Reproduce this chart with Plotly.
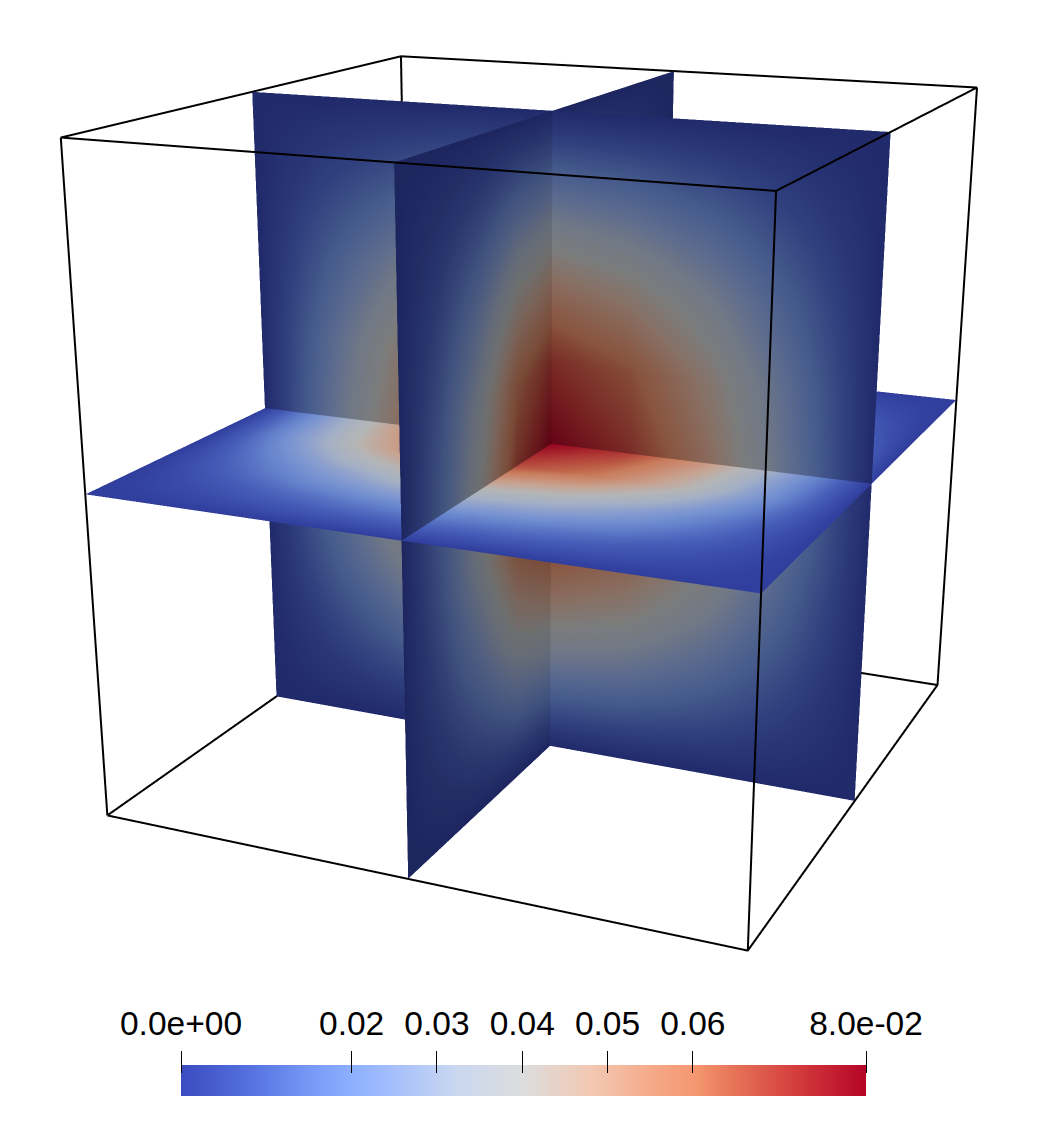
import numpy as np
import plotly.graph_objects as go

# positions of the samples along a slice (box runs 0..1)
grid_pos = [0, 0.125, 0.25, 0.375, 0.5, 0.625, 0.75, 0.875, 1]

# field values
# x slice: rows follow z, columns follow y
x_slice_values = [
    [0, 0, 0, 0, 0, 0, 0, 0, 0],
    [0, 0.0055, 0.0124, 0.0211, 0.0248, 0.0211, 0.0124, 0.0055, 0],
    [0, 0.0109, 0.0248, 0.0422, 0.0496, 0.0422, 0.0248, 0.0109, 0],
    [0, 0.0155, 0.0352, 0.0598, 0.0704, 0.0598, 0.0352, 0.0155, 0],
    [0, 0.0176, 0.0400, 0.0680, 0.0800, 0.0680, 0.0400, 0.0176, 0],
    [0, 0.0155, 0.0352, 0.0598, 0.0704, 0.0598, 0.0352, 0.0155, 0],
    [0, 0.0109, 0.0248, 0.0422, 0.0496, 0.0422, 0.0248, 0.0109, 0],
    [0, 0.0055, 0.0124, 0.0211, 0.0248, 0.0211, 0.0124, 0.0055, 0],
    [0, 0, 0, 0, 0, 0, 0, 0, 0],
]
# y slice: rows follow z, columns follow x
y_slice_values = [
    [0, 0, 0, 0, 0, 0, 0, 0, 0],
    [0, 0.0082, 0.0159, 0.0218, 0.0248, 0.0218, 0.0159, 0.0082, 0],
    [0, 0.0164, 0.0317, 0.0436, 0.0496, 0.0436, 0.0317, 0.0164, 0],
    [0, 0.0232, 0.0451, 0.0620, 0.0704, 0.0620, 0.0451, 0.0232, 0],
    [0, 0.0264, 0.0512, 0.0704, 0.0800, 0.0704, 0.0512, 0.0264, 0],
    [0, 0.0232, 0.0451, 0.0620, 0.0704, 0.0620, 0.0451, 0.0232, 0],
    [0, 0.0164, 0.0317, 0.0436, 0.0496, 0.0436, 0.0317, 0.0164, 0],
    [0, 0.0082, 0.0159, 0.0218, 0.0248, 0.0218, 0.0159, 0.0082, 0],
    [0, 0, 0, 0, 0, 0, 0, 0, 0],
]
# z slice: rows follow y, columns follow x
z_slice_values = [
    [0, 0, 0, 0, 0, 0, 0, 0, 0],
    [0, 0.0058, 0.0113, 0.0155, 0.0176, 0.0155, 0.0113, 0.0058, 0],
    [0, 0.0132, 0.0256, 0.0352, 0.0400, 0.0352, 0.0256, 0.0132, 0],
    [0, 0.0224, 0.0435, 0.0598, 0.0680, 0.0598, 0.0435, 0.0224, 0],
    [0, 0.0264, 0.0512, 0.0704, 0.0800, 0.0704, 0.0512, 0.0264, 0],
    [0, 0.0224, 0.0435, 0.0598, 0.0680, 0.0598, 0.0435, 0.0224, 0],
    [0, 0.0132, 0.0256, 0.0352, 0.0400, 0.0352, 0.0256, 0.0132, 0],
    [0, 0.0058, 0.0113, 0.0155, 0.0176, 0.0155, 0.0113, 0.0058, 0],
    [0, 0, 0, 0, 0, 0, 0, 0, 0],
]

# outline of the box, None breaks the line
box_x = [0, 1, 1, 0, 0, None, 0, 1, 1, 0, 0, None, 0, 0, None, 1, 1, None, 1, 1, None, 0, 0]
box_y = [0, 0, 1, 1, 0, None, 0, 0, 1, 1, 0, None, 0, 0, None, 0, 0, None, 1, 1, None, 1, 1]
box_z = [0, 0, 0, 0, 0, None, 1, 1, 1, 1, 1, None, 0, 1, None, 0, 1, None, 0, 1, None, 0, 1]

# colour bar
bar_values = [0, 0.01, 0.02, 0.03, 0.04, 0.05, 0.06, 0.07, 0.0803]
tick_values = [0, 0.02, 0.03, 0.04, 0.05, 0.06, 0.0803]
tick_labels = ['0.0e+00', '0.02', '0.03', '0.04', '0.05', '0.06', '8.0e-02']

vmax = 0.0803
cool_warm = [
    [0.0, '#3b4cc0'], [0.1, '#5571e0'], [0.2, '#7b9ff9'], [0.25, '#8db0fe'],
    [0.3, '#a2bdfe'], [0.4, '#c9d7f0'], [0.5, '#dddddd'], [0.6, '#f3c7b1'],
    [0.7, '#f6a583'], [0.75, '#f49770'], [0.8, '#e8785a'], [0.9, '#d33b3c'],
    [1.0, '#b40426'],
]

# the figure is larger than the window: plotly's field of view is fixed and
# the reference has a longer lens, so the page is shifted by the offsets below
fig_size = 1864
off_x = 406
off_y = 361


def paper_x(px):
    return (px + off_x) / fig_size


def paper_y(py):
    return 1 - (py + off_y) / fig_size


pos = np.array(grid_pos)
g1, g2 = np.meshgrid(pos, pos)
mid = np.full(g1.shape, 0.5)


def add_slice(fig, x, y, z, values, ambient):
    fig.add_trace(go.Surface(
        x=x, y=y, z=z, surfacecolor=np.array(values), cmin=0, cmax=vmax,
        colorscale=cool_warm, showscale=False, hoverinfo='skip',
        lighting=dict(ambient=ambient, diffuse=0, specular=0, fresnel=0, roughness=1),
    ))


fig = go.Figure()
add_slice(fig, mid, g1, g2, x_slice_values, 0.50)
add_slice(fig, g1, mid, g2, y_slice_values, 0.56)
add_slice(fig, g1, g2, mid, z_slice_values, 0.82)

fig.add_trace(go.Scatter3d(
    x=box_x, y=box_y, z=box_z, mode='lines',
    line=dict(color='black', width=4), hoverinfo='skip', showlegend=False,
))

fig.add_trace(go.Heatmap(
    x=bar_values, y=[0, 1], z=[bar_values, bar_values], zmin=0, zmax=vmax,
    colorscale=cool_warm, showscale=False, zsmooth='best', hoverinfo='skip',
    xaxis='x', yaxis='y',
))

hidden = dict(visible=False, range=[0, 1])
fig.update_layout(
    width=fig_size, height=fig_size, autosize=False,
    margin=dict(l=0, r=0, t=0, b=0),
    paper_bgcolor='white', plot_bgcolor='white',
    showlegend=False,
    font=dict(family='Liberation Sans', color='black', size=33.5),
    scene=dict(
        domain=dict(x=[0, 1], y=[0, 1]),
        xaxis=hidden, yaxis=hidden, zaxis=hidden,
        aspectmode='manual', aspectratio=dict(x=1, y=1, z=1),
        bgcolor='rgba(0,0,0,0)',
        camera=dict(
            eye=dict(x=1.3001, y=-3.0131, z=0.9601),
            center=dict(x=-0.009, y=-0.074, z=-0.182),
            up=dict(x=0, y=0, z=1),
            projection=dict(type='perspective'),
        ),
    ),
    xaxis=dict(
        domain=[paper_x(181), paper_x(866)], range=[0, vmax],
        anchor='free', position=paper_y(1072.5), side='top', automargin=False,
        tickmode='array', tickvals=tick_values, ticktext=tick_labels,
        ticks='outside', ticklen=22, tickwidth=1, tickcolor='black',
        ticklabelstandoff=2, tickangle=0,
        showgrid=False, showline=False, zeroline=False, fixedrange=True,
    ),
    yaxis=dict(
        domain=[paper_y(1096), paper_y(1065)], range=[0, 1],
        visible=False, fixedrange=True, automargin=False,
    ),
)

shift_page = (
    "var gd=document.getElementsByClassName('plotly-graph-div')[0];"
    "document.documentElement.style.overflow='hidden';"
    "document.body.style.margin='0';document.body.style.overflow='hidden';"
    "gd.style.position='absolute';gd.style.left='-%dpx';gd.style.top='-%dpx';"
    "gd.style.width='%dpx';gd.style.height='%dpx';" % (off_x, off_y, fig_size, fig_size)
)

fig.write_html("out.html", post_script=shift_page, config=dict(displayModeBar=False))
